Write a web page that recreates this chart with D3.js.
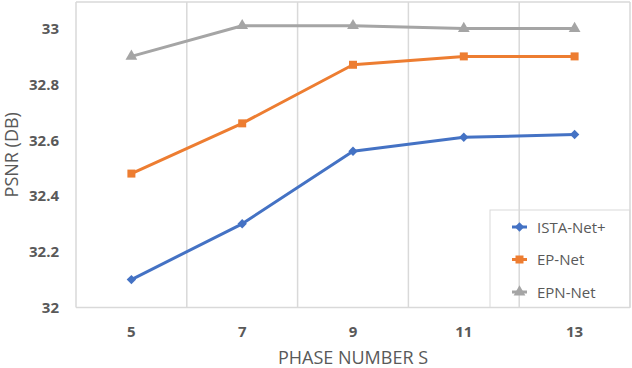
<!DOCTYPE html>
<html>
<head>
<meta charset="utf-8">
<script src="https://cdn.jsdelivr.net/npm/d3@7"></script>
<style>
  body { margin: 0; background: #fff; }
  svg { display: block; font-family: "Open Sans", sans-serif; }
</style>
</head>
<body>
<svg id="chart" width="632" height="368"></svg>
<script>
"use strict";

// chart values
const phases = ["5", "7", "9", "11", "13"];
const istaNet = [32.10, 32.30, 32.56, 32.61, 32.62];
const epNet = [32.48, 32.66, 32.87, 32.90, 32.90];
const epnNet = [32.90, 33.01, 33.01, 33.00, 33.00];
const yTicks = [32, 32.2, 32.4, 32.6, 32.8, 33];

// diamond = square turned 45 degrees (Excel style, wider than d3's diamond)
const series = [
  { name: "ISTA-Net+", values: istaNet, color: "#4472C4", symbol: d3.symbolSquare, size: 44, rot: 45 },
  { name: "EP-Net", values: epNet, color: "#ED7D31", symbol: d3.symbolSquare, size: 64, rot: 0 },
  { name: "EPN-Net", values: epnNet, color: "#A5A5A5", symbol: d3.symbolTriangle, size: 60, rot: 0 }
];

const svg = d3.select("#chart");
const plotLeft = 76, plotRight = 630, plotTop = 2, plotBottom = 307.5;
const textCol = "#595959", gridCol = "#d9d9d9";

const x = d3.scaleBand().domain(phases).range([plotLeft, plotRight]);
const y = d3.scaleLinear().domain([32, 33]).range([plotBottom, 28.5]);

// vertical gridlines on category boundaries
const bounds = phases.map(p => x(p)).concat([plotRight]);
svg.append("g").selectAll("line")
  .data(bounds)
  .enter().append("line")
  .attr("x1", d => d).attr("x2", d => d)
  .attr("y1", plotTop).attr("y2", plotBottom)
  .attr("stroke", gridCol).attr("stroke-width", 1.5);

// plot frame (top + bottom)
svg.append("line").attr("x1", plotLeft).attr("x2", plotRight).attr("y1", plotTop).attr("y2", plotTop)
  .attr("stroke", gridCol).attr("stroke-width", 1.5);
svg.append("line").attr("x1", plotLeft).attr("x2", plotRight).attr("y1", plotBottom).attr("y2", plotBottom)
  .attr("stroke", gridCol).attr("stroke-width", 1.5);

// y tick labels
svg.append("g").selectAll("text")
  .data(yTicks)
  .enter().append("text")
  .attr("x", 59).attr("y", d => y(d) + 5.5)
  .attr("text-anchor", "end")
  .attr("font-size", 15).attr("font-weight", 700)
  .attr("fill", textCol)
  .text(d => d);

// x tick labels
svg.append("g").selectAll("text")
  .data(phases)
  .enter().append("text")
  .attr("x", d => x(d) + x.bandwidth() / 2).attr("y", 337)
  .attr("text-anchor", "middle")
  .attr("font-size", 15).attr("font-weight", 700)
  .attr("fill", textCol)
  .text(d => d);

// axis titles
svg.append("text")
  .attr("x", (plotLeft + plotRight) / 2).attr("y", 364)
  .attr("text-anchor", "middle")
  .attr("font-size", 18).attr("fill", textCol)
  .text("PHASE NUMBER S");

svg.append("text")
  .attr("transform", `translate(18,${(plotTop + plotBottom) / 2}) rotate(-90)`)
  .attr("text-anchor", "middle")
  .attr("font-size", 18).attr("fill", textCol)
  .text("PSNR (DB)");

// lines + markers
const line = d3.line()
  .x((d, i) => x(phases[i]) + x.bandwidth() / 2)
  .y(d => y(d));

series.forEach(s => {
  svg.append("path")
    .attr("d", line(s.values))
    .attr("fill", "none")
    .attr("stroke", s.color)
    .attr("stroke-width", 3)
    .attr("stroke-linejoin", "round");

  svg.append("g").selectAll("path")
    .data(s.values)
    .enter().append("path")
    .attr("transform", (d, i) => `translate(${x(phases[i]) + x.bandwidth() / 2},${y(d)}) rotate(${s.rot})`)
    .attr("d", d3.symbol().type(s.symbol).size(s.size))
    .attr("fill", s.color);
});

// legend
const legend = svg.append("g");
legend.append("rect")
  .attr("x", 490).attr("y", 210)
  .attr("width", plotRight - 490).attr("height", plotBottom - 210)
  .attr("fill", "none").attr("stroke", gridCol).attr("stroke-width", 1);

const items = legend.selectAll(".item")
  .data(series)
  .enter().append("g")
  .attr("class", "item")
  .attr("transform", (d, i) => `translate(0,${227 + i * 32.5})`);

items.append("line")
  .attr("x1", 512).attr("x2", 527).attr("y1", 0).attr("y2", 0)
  .attr("stroke", d => d.color).attr("stroke-width", 3);

items.append("path")
  .attr("transform", d => `translate(519.5,0) rotate(${d.rot})`)
  .attr("d", d => d3.symbol().type(d.symbol).size(d.size)())
  .attr("fill", d => d.color);

items.append("text")
  .attr("x", 537).attr("y", 5.5)
  .attr("font-size", 15).attr("fill", textCol)
  .text(d => d.name);
</script>
</body>
</html>
